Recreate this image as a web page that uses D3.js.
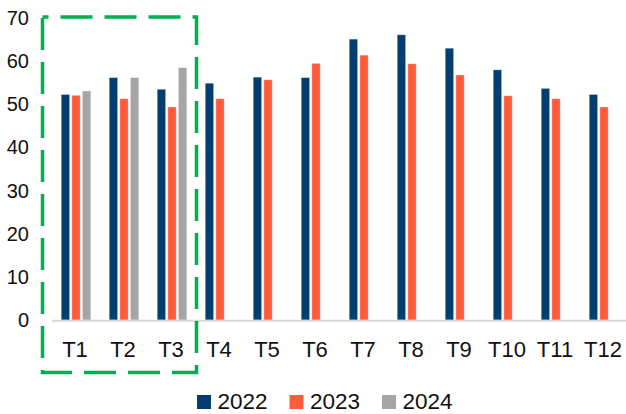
<!DOCTYPE html>
<html>
<head>
<meta charset="utf-8">
<script src="https://cdn.jsdelivr.net/npm/d3@7"></script>
<style>
  body { margin: 0; background: #fff; }
  svg { display: block; font-family: "Liberation Sans", Arial, sans-serif; }
</style>
</head>
<body>
<svg id="chart" width="626" height="414"></svg>
<script>
// months T1..T12, three years (2024 only has first quarter)
var categories = ['T1', 'T2', 'T3', 'T4', 'T5', 'T6', 'T7', 'T8', 'T9', 'T10', 'T11', 'T12'];
var seriesNames = ['2022', '2023', '2024'];
var values2022 = [52.2, 56.1, 53.4, 54.8, 56.2, 56.1, 65.0, 66.0, 62.9, 57.9, 53.6, 52.2];
var values2023 = [52.0, 51.2, 49.3, 51.2, 55.6, 59.4, 61.3, 59.3, 56.7, 51.9, 51.2, 49.3];
var values2024 = [53.0, 56.1, 58.4];
var yTicks = [0, 10, 20, 30, 40, 50, 60, 70];
var colors = ['#033d71', '#ff5c3e', '#a5a5a5'];

var allSeries = [values2022, values2023, values2024];

var svg = d3.select('#chart');

var x = d3.scaleBand().domain(categories).range([52, 628]).padding(0);
var xInner = d3.scaleBand().domain(seriesNames).range([0, x.bandwidth()])
  .paddingInner(0.2).paddingOuter(0.87);
var y = d3.scaleLinear().domain([0, 70]).range([320, 17.5]);

// y labels (no axis line)
svg.append('g')
  .selectAll('text')
  .data(yTicks)
  .enter()
  .append('text')
  .attr('x', 29)
  .attr('y', d => y(d))
  .attr('dy', '0.36em')
  .attr('text-anchor', 'end')
  .attr('font-size', 20)
  .attr('fill', '#111')
  .text(d => d);

// bars
var bars = [];
allSeries.forEach(function(vals, si) {
  vals.forEach(function(v, ci) {
    bars.push({ cat: categories[ci], series: seriesNames[si], value: v, color: colors[si] });
  });
});

svg.append('g')
  .selectAll('rect')
  .data(bars)
  .enter()
  .append('rect')
  .attr('x', d => x(d.cat) + xInner(d.series))
  .attr('y', d => y(d.value))
  .attr('width', xInner.bandwidth())
  .attr('height', d => y(0) - y(d.value))
  .attr('fill', d => d.color)
  .attr('stroke', 'rgba(255,255,255,0.45)')
  .attr('stroke-width', 0.8);

// x axis line
svg.append('line')
  .attr('x1', x.range()[0]).attr('x2', 626)
  .attr('y1', y(0) + 0.8).attr('y2', y(0) + 0.8)
  .attr('stroke', '#d9d9d9')
  .attr('stroke-width', 2);

// x labels
svg.append('g')
  .selectAll('text')
  .data(categories)
  .enter()
  .append('text')
  .attr('x', d => x(d) + x.bandwidth() / 2 - 1)
  .attr('y', 356.5)
  .attr('text-anchor', 'middle')
  .attr('font-size', 22)
  .attr('fill', '#111')
  .text(d => d);

// green dashed highlight around first quarter
svg.append('rect')
  .attr('x', 42.5)
  .attr('y', 17)
  .attr('width', 154)
  .attr('height', 355.5)
  .attr('fill', 'none')
  .attr('stroke', '#00b050')
  .attr('stroke-width', 3.5)
  .attr('stroke-dasharray', '32,12')
  .attr('stroke-dashoffset', 26);

// legend
var legend = svg.append('g')
  .selectAll('g')
  .data(seriesNames)
  .enter()
  .append('g')
  .attr('transform', (d, i) => 'translate(' + (197 + i * 92.5) + ',0)');

legend.append('rect')
  .attr('x', 0).attr('y', 395)
  .attr('width', 14).attr('height', 14)
  .attr('fill', (d, i) => colors[i]);

legend.append('text')
  .attr('x', 20.5)
  .attr('y', 408.5)
  .attr('font-size', 22.5)
  .attr('fill', '#111')
  .text(d => d);
</script>
</body>
</html>
